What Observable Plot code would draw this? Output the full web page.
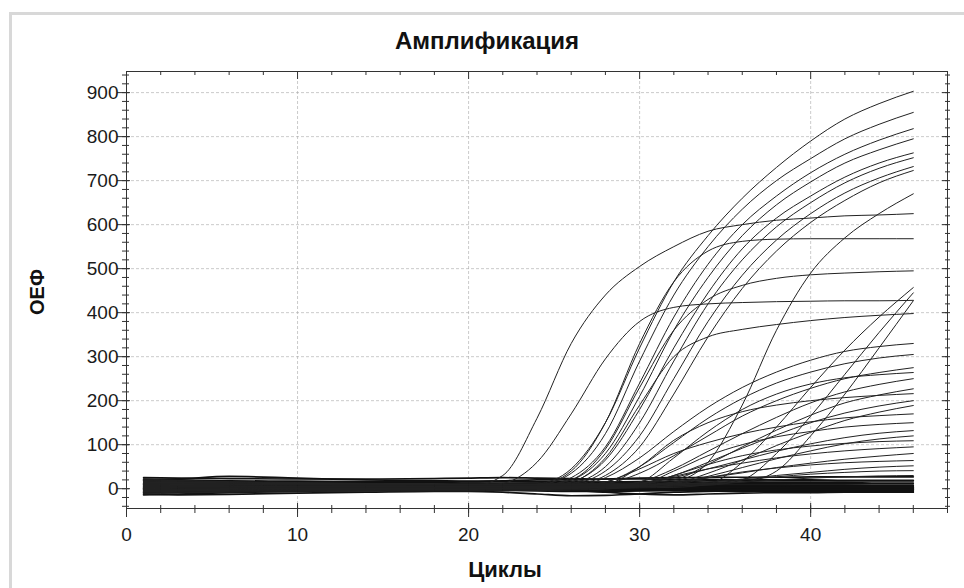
<!DOCTYPE html>
<html>
<head>
<meta charset="utf-8">
<script src="https://cdn.jsdelivr.net/npm/d3@7"></script>
<script src="https://cdn.jsdelivr.net/npm/@observablehq/plot@0.6"></script>
<style>
  html, body { margin: 0; padding: 0; background: #fff; }
  #wrap { position: relative; width: 964px; height: 588px; overflow: hidden; background: #fff; font-family: "Liberation Sans", Arial, sans-serif; }
  #border { position: absolute; left: 9px; top: 12px; width: 1000px; height: 700px; border: 3px solid #d8d8d8; }
  #title { position: absolute; top: 29px; left: 0; width: 974px; text-align: center; font-weight: bold; font-size: 24px; line-height: 1; color: #111; }
  #chart { position: absolute; top: 60px; left: 0; }
  #xlabel { position: absolute; top: 559px; left: 405px; width: 200px; text-align: center; font-weight: bold; font-size: 22px; line-height: 1; color: #111; }
  #ylabel { position: absolute; top: 281px; left: -12px; width: 100px; height: 22px; text-align: center; font-weight: bold; font-size: 20px; line-height: 1; color: #111; transform: rotate(-90deg); transform-origin: 50% 50%; }
</style>
</head>
<body>
<div id="wrap">
  <div id="border"></div>
  <div id="title">Амплификация</div>
  <div id="chart"></div>
  <div id="xlabel">Циклы</div>
  <div id="ylabel">ОЕФ</div>
</div>
<script>
// Cycle numbers at which each curve was read
const cycles = [1,3,6,10,14,18,20,22,24,26,28,30,32,34,36,38,40,42,44,46];

// Axis ticks
const xMajor = [0,10,20,30,40];
const xMinor = [0,2,4,6,8,10,12,14,16,18,20,22,24,26,28,30,32,34,36,38,40,42,44,46,48];
const yMajor = [0,100,200,300,400,500,600,700,800,900];
const yMinor = d3.range(-40, 941, 20);

// Amplifying curves (fluorescence, RFU)
const a1   = [8,6,5,4,3,3,4,30,160,330,440,505,550,585,600,610,615,620,622,625];
const a2   = [12,10,7,5,4,4,5,12,60,170,295,380,412,420,423,425,426,427,427,428];
const p568 = [15,12,10,8,6,5,5,6,8,40,150,330,470,540,562,567,568,568,568,568];
const t1   = [5,4,3,2,2,2,3,4,10,45,150,320,470,575,660,730,790,840,875,903];
const t2   = [10,8,6,5,4,4,4,5,8,35,125,290,440,550,635,700,750,795,828,855];
const t3   = [0,2,3,3,3,3,3,4,5,25,95,240,390,510,600,665,718,760,792,818];
const t4   = [18,15,12,10,9,8,8,8,8,20,80,210,360,480,575,645,697,740,770,795];
const t5   = [-5,-3,-1,0,1,2,2,3,3,15,65,180,320,445,545,615,665,708,740,763];
const t6   = [3,4,4,4,3,3,3,4,5,12,50,150,290,420,520,595,650,695,728,752];
const t7   = [20,18,15,13,11,10,10,10,10,12,40,120,250,380,485,565,625,672,706,732];
const t8   = [-8,-6,-5,-4,-3,-2,-2,-1,0,8,30,95,215,345,455,540,605,655,695,723];
const p495 = [6,5,4,4,4,4,4,5,6,20,90,230,360,430,462,478,486,490,493,495];
const l1   = [12,10,8,7,6,5,5,5,5,5,5,5,15,60,190,360,490,570,625,670];
const l2   = [-10,-8,-6,-5,-4,-3,-3,-2,-2,-1,0,2,3,10,60,140,230,315,390,457];
const l3   = [2,3,3,3,3,3,3,3,3,3,4,5,6,8,20,80,165,260,355,445];
const l4   = [15,13,11,10,9,8,8,8,8,8,8,9,10,12,15,40,120,215,320,427];
const m398 = [7,6,5,4,4,4,4,5,6,15,70,190,300,345,362,373,382,389,394,398];
const m330 = [-3,-2,-1,0,0,1,1,2,3,5,25,70,130,185,230,265,292,312,323,330];
const m305 = [9,8,7,6,6,5,5,5,5,6,15,50,105,160,205,240,265,284,297,305];
const m275 = [14,12,10,9,8,7,7,7,7,8,12,35,75,120,165,200,228,250,264,275];
const m264 = [-6,-4,-3,-2,-1,0,0,1,2,3,5,15,70,130,180,215,238,252,259,264];
const m250 = [4,4,4,4,4,4,4,4,4,5,6,15,45,85,125,162,195,220,237,250];
const m227 = [22,19,16,14,12,11,11,11,11,11,12,13,20,55,95,133,167,195,213,227];
const m216 = [1,2,2,2,2,2,2,3,4,6,10,50,110,150,175,190,200,207,212,216];
const m200 = [-12,-10,-8,-7,-6,-5,-5,-4,-4,-3,-1,10,30,60,92,122,150,172,188,200];
const m189 = [10,9,8,7,7,6,6,6,6,6,6,7,12,35,65,98,128,155,174,189];
const m170 = [6,6,5,5,5,5,5,5,5,6,15,45,80,105,125,140,152,161,166,170];
const m150 = [5,5,5,5,5,5,5,5,5,6,7,10,40,75,100,118,130,140,146,150];
const m132 = [-2,-1,0,0,0,0,0,1,1,2,3,10,25,45,65,85,102,116,126,132];
const m120 = [16,14,12,11,10,9,9,9,9,9,9,9,12,28,48,68,86,102,113,120];
const m109 = [8,7,6,5,5,5,5,5,5,5,6,8,30,55,75,88,97,103,107,109];
const m95  = [3,3,3,3,3,3,3,3,3,3,4,12,28,45,58,70,79,86,91,95];
const m80  = [-4,-3,-2,-1,-1,0,0,0,0,1,2,8,15,25,36,48,58,67,74,80];
const m64  = [12,11,10,9,8,8,8,8,8,8,8,9,10,25,38,47,54,59,62,64];
const m52  = [0,1,1,1,1,1,1,1,2,2,3,4,8,15,22,30,37,44,49,52];
const m41  = [18,16,14,12,11,10,10,10,10,10,10,10,11,12,20,27,33,37,40,41];
const m30  = [-7,-5,-4,-3,-2,-1,-1,0,0,1,2,4,6,10,15,20,24,27,29,30];

// Non-amplifying (baseline) curves
const b1  = [25,24,23,22,22,23,24,25,24,23,22,22,21,21,20,20,20,19,19,19];
const b2  = [20,22,28,24,20,18,17,17,16,16,15,15,15,14,14,14,14,14,13,13];
const b3  = [15,16,15,14,13,13,12,12,12,12,12,11,11,11,11,11,11,11,11,11];
const b4  = [10,11,10,9,9,8,8,8,9,10,9,8,8,8,8,8,8,8,7,7];
const b5  = [5,6,6,5,5,5,5,5,5,5,5,5,5,5,5,5,5,5,5,5];
const b6  = [0,1,2,3,3,3,3,3,3,3,3,3,3,3,3,3,3,3,3,3];
const b7  = [-5,-4,-2,0,1,1,1,1,0,0,0,1,1,1,1,1,1,1,1,1];
const b8  = [-10,-8,-6,-3,-1,0,0,-1,-2,-3,-3,-2,-1,0,0,0,0,0,0,0];
const b9  = [-14,-12,-9,-6,-4,-3,-3,-4,-5,-6,-6,-5,-4,-3,-3,-2,-2,-2,-2,-2];
const b10 = [-12,-14,-13,-10,-8,-6,-6,-8,-12,-16,-15,-12,-8,-6,-5,-5,-4,-4,-4,-4];
const b11 = [3,3,3,2,2,2,2,2,2,2,1,0,-2,-5,-6,-6,-6,-6,-6,-6];
const b12 = [8,7,6,6,5,5,5,4,4,4,4,3,3,3,3,3,3,3,3,3];
const b13 = [-2,-1,0,1,1,1,0,-1,-2,-4,-8,-12,-14,-12,-10,-9,-9,-8,-8,-8];
const b14 = [12,12,11,10,10,9,9,9,8,8,8,7,7,7,7,7,6,6,6,6];
const b15 = [18,17,16,15,14,14,13,13,13,14,15,16,17,18,18,18,18,18,18,18];
const b16 = [-8,-7,-6,-5,-4,-4,-3,-3,-2,-2,-2,-1,-1,-1,-1,-1,-1,-1,-1,-1];
const b17 = [22,20,18,17,16,16,16,18,20,20,22,24,25,26,26,26,27,27,27,27];
const b18 = [1,0,-1,-2,-2,-1,0,0,-1,-2,-3,-4,-4,-3,-2,-2,-2,-2,-2,-2];

const amplified = [a1,a2,p568,t1,t2,t3,t4,t5,t6,t7,t8,p495,l1,l2,l3,l4,m398,m330,m305,m275,m264,m250,m227,m216,m200,m189,m170,m150,m132,m120,m109,m95,m80,m64,m52,m41,m30];
const baseline = [b1,b2,b3,b4,b5,b6,b7,b8,b9,b10,b11,b12,b13,b14,b15,b16,b17,b18];

const toRows = (list, prefix) => list.flatMap((vals, i) => vals.map((v, j) => ({id: prefix + i, cycle: cycles[j], value: v})));
const ampRows = toRows(amplified, "a");
const baseRows = toRows(baseline, "b");

const noText = () => "";
const axisStyle = {stroke: "#333", label: null, tickFormat: noText};

const chart = Plot.plot({
  width: 964,
  height: 528,
  marginLeft: 126,
  marginRight: 17,
  marginTop: 11,
  marginBottom: 80,
  style: {fontFamily: "'Liberation Sans', Arial, sans-serif", background: "transparent", overflow: "visible"},
  x: {domain: [0, 48]},
  y: {domain: [-45, 948]},
  marks: [
    Plot.gridY(yMajor.filter(d => d > 0), {stroke: "#a8a8a8", strokeOpacity: 0.6, strokeDasharray: "3,2"}),
    Plot.gridX(xMajor.filter(d => d > 0), {stroke: "#a8a8a8", strokeOpacity: 0.6, strokeDasharray: "3,2"}),
    Plot.line(baseRows, {x: "cycle", y: "value", z: "id", curve: "monotone-x", stroke: "#111", strokeWidth: 1.7}),
    Plot.line(ampRows, {x: "cycle", y: "value", z: "id", curve: "monotone-x", stroke: "#222", strokeWidth: 1}),
    Plot.frame({stroke: "#333", strokeWidth: 1}),
    // left axis
    Plot.axisY(yMinor, {...axisStyle, anchor: "left", tickSize: 7, dx: 3}),
    Plot.axisY(yMajor, {...axisStyle, anchor: "left", tickSize: 13, dx: 4}),
    Plot.axisY(yMajor, {anchor: "left", label: null, tickSize: 0, tickPadding: 8, fontSize: 19, fill: "#1a1a1a"}),
    // right axis (ticks only)
    Plot.axisY(yMinor, {...axisStyle, anchor: "right", tickSize: 5, dx: -3}),
    Plot.axisY(yMajor, {...axisStyle, anchor: "right", tickSize: 5, dx: -6}),
    // bottom axis
    Plot.axisX(xMinor, {...axisStyle, anchor: "bottom", tickSize: 8, dy: -3}),
    Plot.axisX(xMajor, {...axisStyle, anchor: "bottom", tickSize: 14, dy: -5}),
    Plot.axisX(xMajor, {anchor: "bottom", label: null, tickSize: 0, tickPadding: 19, fontSize: 19, fill: "#1a1a1a"}),
    // top axis (ticks only)
    Plot.axisX(xMinor, {...axisStyle, anchor: "top", tickSize: 4, dy: 3}),
    Plot.axisX(xMajor, {...axisStyle, anchor: "top", tickSize: 4, dy: 7})
  ]
});
document.getElementById("chart").appendChild(chart);
</script>
</body>
</html>
